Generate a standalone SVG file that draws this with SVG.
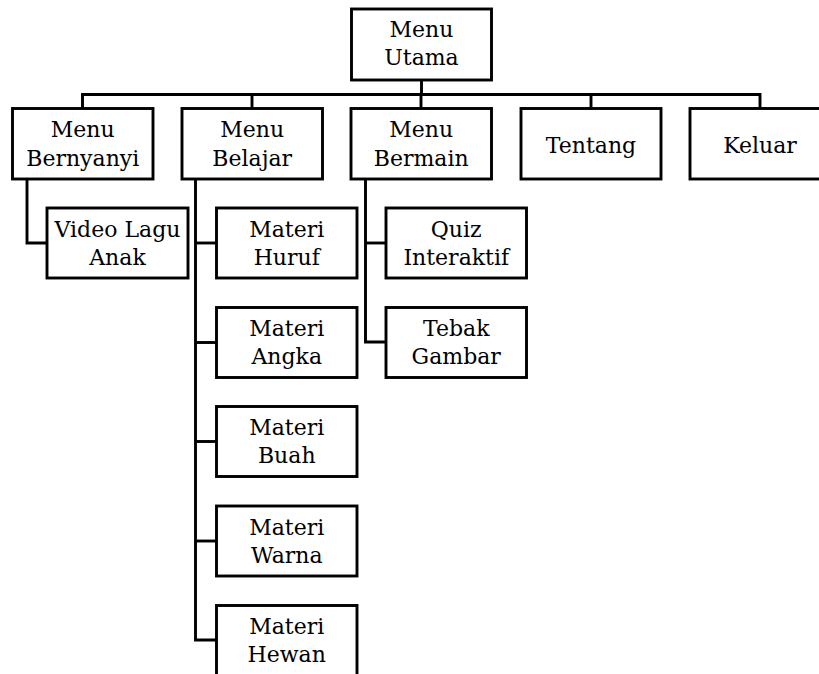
<svg xmlns="http://www.w3.org/2000/svg" width="819" height="674" viewBox="0 0 819 674">
  <style>
    .box { fill: #ffffff; stroke: #000000; stroke-width: 2.9; }
    .link { fill: none; stroke: #000000; stroke-width: 2.9; }
    text { font-family: "DejaVu Serif", "Liberation Serif", serif; font-size: 22px; fill: #000000; text-anchor: middle; }
  </style>
  <rect width="819" height="674" fill="#ffffff"/>

  <!-- connectors -->
  <g id="connectors">
    <path class="link" d="M421.5 80 V94.5"/>
    <path class="link" d="M82.5 108.5 V94.5 H760 V108.5"/>
    <path class="link" d="M252 94.5 V108.5"/>
    <path class="link" d="M421 94.5 V108.5"/>
    <path class="link" d="M591 94.5 V108.5"/>
    <!-- Menu Bernyanyi children -->
    <path class="link" d="M27 179 V243 H47"/>
    <!-- Menu Belajar children -->
    <path class="link" d="M195.5 179 V640 H216.5"/>
    <path class="link" d="M195.5 243 H216.5"/>
    <path class="link" d="M195.5 342.5 H216.5"/>
    <path class="link" d="M195.5 441.5 H216.5"/>
    <path class="link" d="M195.5 541 H216.5"/>
    <!-- Menu Bermain children -->
    <path class="link" d="M365.5 179 V342 H386"/>
    <path class="link" d="M365.5 243 H386"/>
  </g>

  <!-- root -->
  <g id="menu-utama">
    <rect class="box" x="351.5" y="9" width="140" height="71"/>
    <text x="421.5" y="36.5">Menu</text>
    <text x="421.5" y="65">Utama</text>
  </g>

  <!-- first level -->
  <g id="menu-bernyanyi">
    <rect class="box" x="12.5" y="108.5" width="140.5" height="70.5"/>
    <text x="82.75" y="137">Menu</text>
    <text x="82.75" y="165.5">Bernyanyi</text>
  </g>
  <g id="menu-belajar">
    <rect class="box" x="182" y="108.5" width="140.5" height="70.5"/>
    <text x="252.25" y="137">Menu</text>
    <text x="252.25" y="165.5">Belajar</text>
  </g>
  <g id="menu-bermain">
    <rect class="box" x="351" y="108.5" width="140.5" height="70.5"/>
    <text x="421.25" y="137">Menu</text>
    <text x="421.25" y="165.5">Bermain</text>
  </g>
  <g id="tentang">
    <rect class="box" x="521" y="108.5" width="140" height="70.5"/>
    <text x="591" y="153">Tentang</text>
  </g>
  <g id="keluar">
    <rect class="box" x="690" y="108.5" width="140" height="70.5"/>
    <text x="760" y="153">Keluar</text>
  </g>

  <!-- Menu Bernyanyi items -->
  <g id="video-lagu-anak">
    <rect class="box" x="47" y="208" width="141" height="70"/>
    <text x="117.5" y="237">Video Lagu</text>
    <text x="117.5" y="264.5">Anak</text>
  </g>

  <!-- Menu Belajar items -->
  <g id="materi-huruf">
    <rect class="box" x="216.5" y="208" width="140.5" height="70"/>
    <text x="286.75" y="236.5">Materi</text>
    <text x="286.75" y="264.5">Huruf</text>
  </g>
  <g id="materi-angka">
    <rect class="box" x="216.5" y="307.5" width="140.5" height="70"/>
    <text x="286.75" y="336">Materi</text>
    <text x="286.75" y="364">Angka</text>
  </g>
  <g id="materi-buah">
    <rect class="box" x="216.5" y="406.5" width="140.5" height="70"/>
    <text x="286.75" y="435">Materi</text>
    <text x="286.75" y="463">Buah</text>
  </g>
  <g id="materi-warna">
    <rect class="box" x="216.5" y="506" width="140.5" height="70"/>
    <text x="286.75" y="534.5">Materi</text>
    <text x="286.75" y="562.5">Warna</text>
  </g>
  <g id="materi-hewan">
    <rect class="box" x="216.5" y="605.5" width="140.5" height="70"/>
    <text x="286.75" y="634">Materi</text>
    <text x="286.75" y="662">Hewan</text>
  </g>

  <!-- Menu Bermain items -->
  <g id="quiz-interaktif">
    <rect class="box" x="386" y="208" width="140.5" height="70"/>
    <text x="456.25" y="236.5">Quiz</text>
    <text x="456.25" y="264.5">Interaktif</text>
  </g>
  <g id="tebak-gambar">
    <rect class="box" x="386" y="307.5" width="140.5" height="70"/>
    <text x="456.25" y="336">Tebak</text>
    <text x="456.25" y="364">Gambar</text>
  </g>
</svg>
